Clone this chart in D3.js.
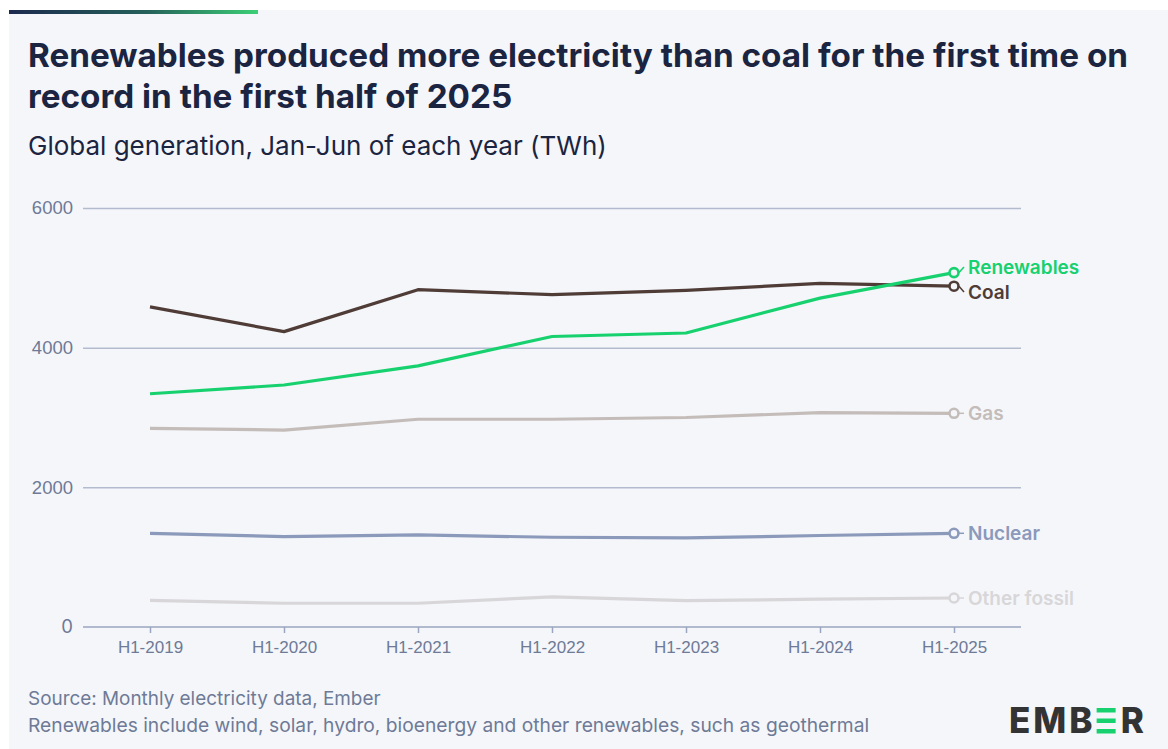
<!DOCTYPE html>
<html>
<head>
<meta charset="utf-8">
<script src="https://d3js.org/d3.v7.min.js"></script>
<style>
  body { margin: 0; background: #ffffff; }
  svg { display: block; font-family: Inter, "Open Sans", sans-serif; }
</style>
</head>
<body>
<div id="chart"></div>
<script>
// data (TWh, Jan-Jun)
var periods = ["H1-2019", "H1-2020", "H1-2021", "H1-2022", "H1-2023", "H1-2024", "H1-2025"];
var coal = [4585, 4230, 4830, 4760, 4820, 4920, 4880];
var renewables = [3340, 3465, 3740, 4160, 4210, 4710, 5075];
var gas = [2845, 2820, 2975, 2975, 3000, 3070, 3060];
var nuclear = [1340, 1295, 1318, 1285, 1275, 1310, 1342];
var otherFossil = [380, 340, 340, 432, 378, 398, 415];
var yTicks = [0, 2000, 4000, 6000];

var seriesNames = ["Coal", "Renewables", "Gas", "Nuclear", "Other fossil"];
var seriesValues = [coal, renewables, gas, nuclear, otherFossil];
var seriesColors = ["#4f3c36", "#17d16f", "#c4bcb9", "#8b99ba", "#d8d6d8"];

var W = 1168, H = 749;
var svg = d3.select("#chart").append("svg").attr("width", W).attr("height", H);

// card + accent bar
svg.append("rect").attr("x", 9).attr("y", 10).attr("width", W - 9).attr("height", H - 10).attr("fill", "#f4f6fa");
var grad = svg.append("defs").append("linearGradient").attr("id", "accent");
grad.append("stop").attr("offset", "0%").attr("stop-color", "#1c2a4e");
grad.append("stop").attr("offset", "55%").attr("stop-color", "#25605a");
grad.append("stop").attr("offset", "100%").attr("stop-color", "#3ccf76");
svg.append("rect").attr("x", 9).attr("y", 10).attr("width", 249).attr("height", 4).attr("fill", "url(#accent)");

// fit a text element's font size to a wanted width
function fit(sel, target) {
  var fs = parseFloat(sel.style("font-size"));
  var w = sel.node().getComputedTextLength();
  var nf = fs * target / w;
  sel.style("font-size", nf + "px");
  return nf;
}

// titles
var t1 = svg.append("text").attr("x", 28).attr("y", 67)
  .style("font-size", "28px").style("font-weight", 700).attr("fill", "#1b2440")
  .text("Renewables produced more electricity than coal for the first time on");
var tfs = fit(t1, 1100);
svg.append("text").attr("x", 28).attr("y", 108)
  .style("font-size", tfs + "px").style("font-weight", 700).attr("fill", "#1b2440")
  .text("record in the first half of 2025");
var st = svg.append("text").attr("x", 28).attr("y", 155)
  .style("font-size", "22px").attr("fill", "#1b2440")
  .text("Global generation, Jan-Jun of each year (TWh)");
fit(st, 579);

// scales
var x = d3.scalePoint().domain(periods).range([83, 1021]).padding(0.5);
var y = d3.scaleLinear().domain([0, 6000]).range([627, 208]);

// gridlines + y labels
var grid = svg.append("g").attr("transform", "translate(83,0)")
  .call(d3.axisLeft(y).tickValues(yTicks.filter(function(d) { return d > 0; }))
    .tickSize(-938).tickPadding(10).tickFormat(d3.format("d")));
grid.select(".domain").remove();
grid.selectAll("line").attr("stroke", "#b3bbcf").attr("stroke-width", 1.5);
grid.selectAll("text").attr("fill", "#6e7a96").style("font-size", "18.5px").attr("x", -10);

svg.append("text").attr("x", 73).attr("y", y(0)).attr("dy", "0.35em")
  .attr("text-anchor", "end").attr("fill", "#6e7a96").style("font-size", "18.5px").text("0");

// x axis
var xa = svg.append("g").attr("transform", "translate(0," + y(0) + ")")
  .call(d3.axisBottom(x).tickSize(6).tickSizeOuter(0).tickPadding(8));
xa.select(".domain").attr("stroke", "#9aa5bf").attr("stroke-width", 1.5).attr("d", "M83,0H1021");
xa.selectAll(".tick line").attr("stroke", "#9aa5bf").attr("stroke-width", 1.5);
xa.selectAll("text").attr("fill", "#6e7a96").style("font-size", "17px");

// lines
var line = d3.line().x(function(d, i) { return x(periods[i]); }).y(function(d) { return y(d); });
var order = [4, 3, 2, 0, 1];
order.forEach(function(k) {
  svg.append("path").datum(seriesValues[k])
    .attr("fill", "none").attr("stroke", seriesColors[k])
    .attr("stroke-width", 3.2).attr("stroke-linejoin", "round").attr("d", line);
});

// end labels with simple collision spreading
var last = periods.length - 1;
var labels = seriesNames.map(function(n, k) {
  return { name: n, color: seriesColors[k], py: y(seriesValues[k][last]), ly: y(seriesValues[k][last]) };
});
labels.sort(function(a, b) { return a.py - b.py; });
for (var i = 1; i < labels.length; i++) {
  var gap = labels[i].ly - labels[i - 1].ly;
  if (gap < 25) {
    var shift = (25 - gap) / 2;
    labels[i - 1].ly -= shift;
    labels[i].ly += shift;
  }
}
var ex = x(periods[last]);
labels.forEach(function(l) {
  svg.append("line").attr("x1", ex + 5).attr("y1", l.py).attr("x2", ex + 10).attr("y2", l.ly)
    .attr("stroke", l.color).attr("stroke-width", 1.5);
  svg.append("circle").attr("cx", ex).attr("cy", l.py).attr("r", 4.5)
    .attr("fill", "#f4f6fa").attr("stroke", l.color).attr("stroke-width", 2.6);
  svg.append("text").attr("x", ex + 14).attr("y", l.ly).attr("dy", "0.36em")
    .attr("fill", l.color).style("font-size", "19px").style("font-weight", 600).text(l.name);
});

// footer
var f1 = svg.append("text").attr("x", 28).attr("y", 705).attr("fill", "#6e7a96")
  .style("font-size", "17px").text("Source: Monthly electricity data, Ember");
fit(f1, 353);
var f2 = svg.append("text").attr("x", 28).attr("y", 732).attr("fill", "#6e7a96")
  .style("font-size", "17px").text("Renewables include wind, solar, hydro, bioenergy and other renewables, such as geothermal");
fit(f2, 842);

// logo
var logo = svg.append("g").attr("fill", "#333333").style("font-weight", 800).style("font-size", "35px");
var l1 = logo.append("text").attr("x", 1009).attr("y", 733).style("letter-spacing", "3px").text("EMB");
var lx = 1009 + l1.node().getComputedTextLength() + 1;
[0, 1, 2].forEach(function(j) {
  logo.append("rect").attr("x", lx).attr("y", 708 + j * 10.5).attr("width", 19).attr("height", 4.5).attr("fill", "#17d16f");
});
logo.append("text").attr("x", lx + 24).attr("y", 733).text("R");
</script>
</body>
</html>
